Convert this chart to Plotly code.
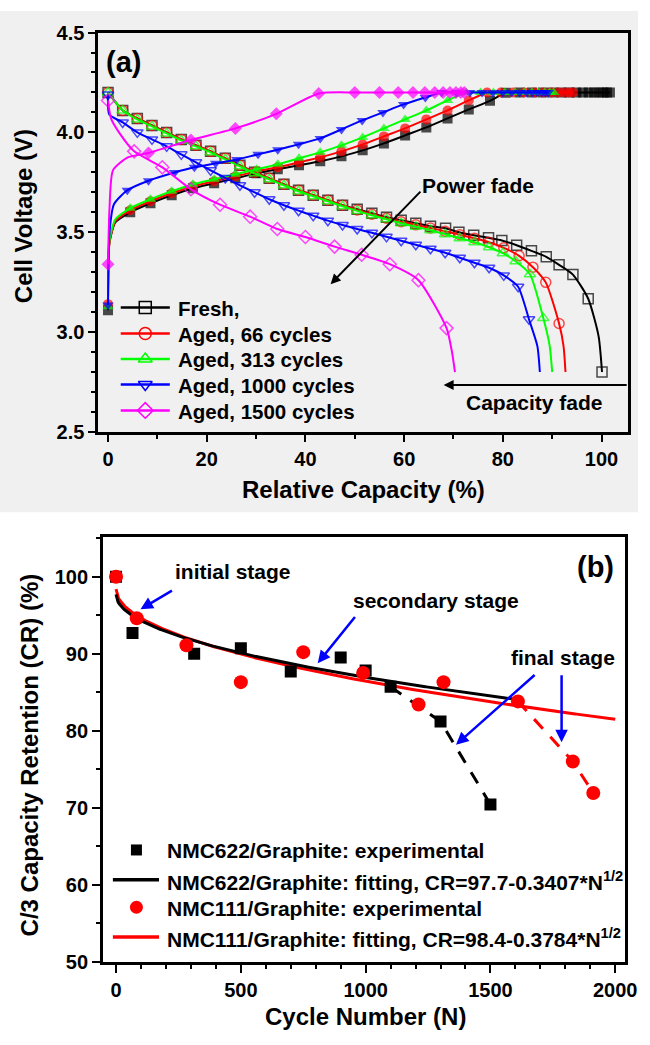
import numpy as np
import plotly.graph_objects as go

W, H = 650, 1045
FONT = "Liberation Sans, Arial, Helvetica, sans-serif"

# ---------------- (a) C/3 voltage profiles ----------------
# discharge branches (open symbols): relative capacity (%) and cell voltage (V)
fresh_dis_cap = [0, 2.97, 5.94, 8.91, 11.88, 14.85, 17.82, 20.79, 23.76, 26.73, 29.70, 32.67,
                 35.64, 38.61, 41.58, 44.55, 47.52, 50.49, 53.46, 56.43, 59.40, 62.37, 65.34,
                 68.4, 71.1, 74.1, 77.1, 79.8, 82.8, 85.8, 88.8, 91.4, 94.2, 97.3, 99.4, 100.1]
fresh_dis_v = [4.20, 4.11, 4.07, 4.035, 4.00, 3.965, 3.935, 3.905, 3.87, 3.835, 3.80, 3.77,
               3.74, 3.71, 3.685, 3.66, 3.635, 3.615, 3.595, 3.575, 3.56, 3.545, 3.53,
               3.52, 3.50, 3.485, 3.472, 3.459, 3.435, 3.407, 3.377, 3.337, 3.288, 3.167, 2.98, 2.80]

c66_dis_cap = [0, 2.97, 5.94, 8.91, 11.88, 14.85, 17.82, 20.79, 23.76, 26.73, 29.70, 32.67,
               35.64, 38.61, 41.58, 44.55, 47.52, 50.49, 53.46, 56.43, 59.40, 62.37, 65.34,
               68.31, 71.28, 74.25, 77.2, 80.2, 83.3, 86.1, 88.7, 91.4, 92.3, 92.7]
c66_dis_v = [4.20, 4.11, 4.07, 4.035, 4.00, 3.965, 3.935, 3.905, 3.87, 3.835, 3.80, 3.77,
             3.74, 3.71, 3.685, 3.66, 3.635, 3.612, 3.59, 3.57, 3.553, 3.537, 3.521,
             3.505, 3.488, 3.47, 3.45, 3.422, 3.382, 3.325, 3.249, 3.043, 2.93, 2.80]

c313_dis_cap = [0, 2.97, 5.94, 8.91, 11.88, 14.85, 17.82, 20.79, 23.76, 26.73, 29.70, 32.67,
                35.64, 38.61, 41.58, 44.55, 47.52, 50.49, 53.46, 56.43, 59.40, 62.37, 65.34,
                68.31, 71.28, 74.25, 77.22, 80.0, 82.6, 85.5, 88.2, 89.5, 90.0]
c313_dis_v = [4.20, 4.11, 4.065, 4.03, 3.995, 3.96, 3.93, 3.90, 3.865, 3.83, 3.795, 3.765,
              3.735, 3.705, 3.68, 3.655, 3.63, 3.607, 3.585, 3.565, 3.545, 3.527, 3.51,
              3.49, 3.47, 3.45, 3.425, 3.395, 3.355, 3.29, 3.07, 2.93, 2.80]

c1000_dis_cap = [0, 0.25, 2.97, 5.94, 8.91, 11.88, 14.85, 17.82, 20.79, 23.76, 26.73, 29.70,
                 32.67, 35.64, 38.61, 41.58, 44.55, 47.52, 50.49, 53.46, 56.43, 59.40, 62.37,
                 65.34, 68.31, 71.28, 74.25, 77.22, 80.19, 83.1, 85.3, 87.0, 87.5]
c1000_dis_v = [4.19, 4.09, 4.05, 4.00, 3.965, 3.93, 3.89, 3.85, 3.81, 3.772, 3.735, 3.70,
               3.665, 3.635, 3.608, 3.583, 3.558, 3.536, 3.516, 3.497, 3.477, 3.457, 3.437,
               3.417, 3.397, 3.372, 3.347, 3.322, 3.284, 3.227, 3.064, 2.93, 2.80]

c1500_dis_cap = [0, 0.6, 2.5, 5.3, 11.0, 16.8, 22.7, 28.8, 34.3, 40.0, 45.9, 51.4, 57.1,
                 62.9, 68.6, 69.7, 70.3]
c1500_dis_v = [4.16, 4.07, 3.99, 3.905, 3.825, 3.715, 3.638, 3.578, 3.516, 3.476, 3.428,
               3.387, 3.34, 3.26, 3.02, 2.90, 2.80]

# charge branches (filled symbols)
fresh_chg_cap = [0, 0.3, 1.5, 4.5, 8.6, 12.9, 17.2, 21.5, 25.8, 30.1, 34.4, 38.7, 43.0, 47.3,
                 51.6, 55.9, 60.2, 64.5, 68.8, 73.1, 77.4, 80.6, 83.4, 85.9, 88.1, 90.1, 91.9,
                 93.5, 94.9, 96.2, 97.4, 98.5, 99.5, 100.4, 101.1, 101.7]
fresh_chg_v = [3.11, 3.45, 3.55, 3.60, 3.645, 3.685, 3.72, 3.745, 3.77, 3.795, 3.815, 3.835,
               3.855, 3.88, 3.91, 3.945, 3.985, 4.025, 4.07, 4.115, 4.158, 4.198, 4.20, 4.20,
               4.20, 4.20, 4.20, 4.20, 4.20, 4.20, 4.20, 4.20, 4.20, 4.20, 4.20, 4.20]

c66_chg_cap = [0, 0.3, 1.5, 4.5, 8.6, 12.9, 17.2, 21.5, 25.8, 30.1, 34.4, 38.7, 43.0, 47.3,
               51.6, 55.9, 60.2, 64.5, 68.8, 73.1, 76.8, 79.6, 82.1, 84.4, 86.4, 88.2, 89.8,
               91.2, 92.4, 93.4, 94.2]
c66_chg_v = [3.14, 3.45, 3.555, 3.61, 3.655, 3.695, 3.73, 3.755, 3.78, 3.805, 3.825, 3.85,
             3.875, 3.905, 3.94, 3.98, 4.02, 4.065, 4.11, 4.16, 4.20, 4.20, 4.20, 4.20, 4.20,
             4.20, 4.20, 4.20, 4.20, 4.20, 4.20]

c313_chg_cap = [0, 0.3, 1.5, 4.5, 8.6, 12.9, 17.2, 21.5, 25.8, 30.1, 34.4, 38.7, 43.0, 47.3,
                51.6, 55.9, 60.2, 64.5, 68.8, 72.6, 75.5, 78.1, 80.4, 82.5, 84.3, 85.9, 87.3,
                88.5, 89.5, 90.3]
c313_chg_v = [3.127, 3.46, 3.565, 3.62, 3.665, 3.705, 3.74, 3.765, 3.79, 3.815, 3.84, 3.87,
              3.90, 3.935, 3.975, 4.02, 4.065, 4.11, 4.16, 4.20, 4.20, 4.20, 4.20, 4.20, 4.20,
              4.20, 4.20, 4.20, 4.20, 4.20]

c1000_chg_cap = [0, 0.3, 1.2, 3.9, 8.2, 13.5, 17.5, 21.8, 26.1, 30.4, 34.4, 38.6, 43.0, 47.3,
                 51.5, 55.7, 59.9, 64.3, 67.6, 70.6, 73.3, 75.8, 78.0, 80.0, 81.8, 83.4, 84.8,
                 86.0, 87.0, 87.9, 88.6, 89.2]
c1000_chg_v = [3.136, 3.50, 3.64, 3.71, 3.758, 3.799, 3.825, 3.845, 3.864, 3.89, 3.913, 3.94,
               3.97, 4.015, 4.06, 4.10, 4.14, 4.175, 4.20, 4.20, 4.20, 4.20, 4.20, 4.20, 4.20,
               4.20, 4.20, 4.20, 4.20, 4.20, 4.20, 4.20]

c1500_chg_cap = [0, 0.3, 1.0, 4.0, 8.2, 16.8, 25.8, 34.1, 42.7, 50.0, 55.0, 58.8, 61.8, 64.2,
                 66.2, 67.9, 69.3, 70.5, 71.5, 72.2]
c1500_chg_v = [3.34, 3.62, 3.81, 3.875, 3.897, 3.962, 4.02, 4.093, 4.195, 4.20, 4.20, 4.20,
               4.20, 4.20, 4.20, 4.20, 4.20, 4.20, 4.20, 4.20]

legend_a = ["Fresh,", "Aged, 66 cycles", "Aged, 313 cycles", "Aged, 1000 cycles",
            "Aged, 1500 cycles"]

# ---------------- (b) C/3 capacity retention ----------------
nmc622_cycles = [0, 66, 313, 500, 700, 900, 1000, 1100, 1300, 1500]
nmc622_cr = [100, 92.7, 90.0, 90.7, 87.7, 89.5, 87.8, 85.7, 81.2, 70.4]
nmc111_cycles = [0, 83, 282, 500, 750, 990, 1212, 1312, 1610, 1830, 1912]
nmc111_cr = [100, 94.6, 91.1, 86.3, 90.2, 87.5, 83.4, 86.3, 83.8, 76.0, 71.9]
fit622_a, fit622_b, fit622_nmax = 97.7, 0.3407, 1600   # CR = a - b*N^0.5
fit111_a, fit111_b, fit111_nmax = 98.4, 0.3784, 2000
nmc622_fast_from = 1100   # onset of the accelerated (final) fade
nmc111_fast_from = 1610

legend_b = ["NMC622/Graphite: experimental",
            "NMC622/Graphite: fitting, CR=97.7-0.3407*N<sup>1/2</sup>",
            "NMC111/Graphite: experimental",
            "NMC111/Graphite: fitting, CR=98.4-0.3784*N<sup>1/2</sup>"]

# ---------------- styling ----------------
BLACK, RED, GREEN, BLUE, MAGENTA = "#000000", "#ff0000", "#00ff00", "#0000ff", "#ff00ff"
series_a = [
    (legend_a[0], BLACK, "square", fresh_chg_cap, fresh_chg_v, fresh_dis_cap, fresh_dis_v),
    (legend_a[1], RED, "circle", c66_chg_cap, c66_chg_v, c66_dis_cap, c66_dis_v),
    (legend_a[2], GREEN, "triangle-up", c313_chg_cap, c313_chg_v, c313_dis_cap, c313_dis_v),
    (legend_a[3], BLUE, "triangle-down", c1000_chg_cap, c1000_chg_v, c1000_dis_cap, c1000_dis_v),
    (legend_a[4], MAGENTA, "diamond", c1500_chg_cap, c1500_chg_v, c1500_dis_cap, c1500_dis_v),
]
# samples drawn without a symbol (line only)
no_symbol_chg = [[1, 2], [1, 2], [1, 2], [1, 2], [1, 2, 3]]
no_symbol_dis = [[34], [32, 33], [31, 32], [1, 31, 32], [1, 2, 15, 16]]
MS = 10

fig = go.Figure()


def sizes(n, hidden, ms):
    return [0 if i in hidden else ms for i in range(n)]


for k, (name, col, sym, ccap, cv, dcap, dv) in enumerate(series_a):
    fig.add_trace(go.Scatter(
        x=ccap, y=cv, mode="lines+markers", xaxis="x", yaxis="y", showlegend=False,
        line=dict(color=col, width=2, shape="spline", smoothing=0.6),
        marker=dict(symbol=sym, color=col, size=sizes(len(ccap), no_symbol_chg[k], MS),
                    line=dict(width=0)),
        hoverinfo="skip"))
    fig.add_trace(go.Scatter(
        x=dcap, y=dv, mode="lines+markers", xaxis="x", yaxis="y", showlegend=False,
        line=dict(color=col, width=2, shape="spline", smoothing=0.6),
        marker=dict(symbol=sym + "-open", color=col, size=sizes(len(dcap), no_symbol_dis[k], MS),
                    line=dict(width=1.5, color=col)),
        hoverinfo="skip"))

# (b) fits from the stated equations
n622 = np.linspace(0, fit622_nmax, 400)
n111 = np.linspace(0, fit111_nmax, 400)
fig.add_trace(go.Scatter(x=n111, y=fit111_a - fit111_b * np.sqrt(n111), mode="lines",
                         xaxis="x2", yaxis="y2", showlegend=False,
                         line=dict(color=RED, width=3), hoverinfo="skip"))
fig.add_trace(go.Scatter(x=n622, y=fit622_a - fit622_b * np.sqrt(n622), mode="lines",
                         xaxis="x2", yaxis="y2", showlegend=False,
                         line=dict(color=BLACK, width=3), hoverinfo="skip"))

i622 = nmc622_cycles.index(nmc622_fast_from)
i111 = nmc111_cycles.index(nmc111_fast_from)
fig.add_trace(go.Scatter(x=nmc622_cycles[i622:], y=nmc622_cr[i622:], mode="lines",
                         xaxis="x2", yaxis="y2", showlegend=False,
                         line=dict(color=BLACK, width=3, dash="13px,11px"), hoverinfo="skip"))
fig.add_trace(go.Scatter(x=nmc111_cycles[i111:], y=nmc111_cr[i111:], mode="lines",
                         xaxis="x2", yaxis="y2", showlegend=False,
                         line=dict(color=RED, width=3, dash="13px,11px"), hoverinfo="skip"))
fig.add_trace(go.Scatter(x=nmc622_cycles, y=nmc622_cr, mode="markers", xaxis="x2", yaxis="y2",
                         showlegend=False, marker=dict(symbol="square", color=BLACK, size=12),
                         hoverinfo="skip"))
fig.add_trace(go.Scatter(x=nmc111_cycles, y=nmc111_cr, mode="markers", xaxis="x2", yaxis="y2",
                         showlegend=False, marker=dict(symbol="circle", color=RED, size=14),
                         hoverinfo="skip"))

# ---------------- legends (drawn on a pixel-space overlay) ----------------
ann = []


def label(x, y, text, size=20, anchor="left", angle=0, color="black"):
    ann.append(dict(x=x, y=y, xref="x3", yref="y3", text=text, showarrow=False,
                    xanchor=anchor, yanchor="middle", textangle=angle,
                    font=dict(family=FONT, size=size, color=color, weight="bold")))


rows_a = [303, 329.5, 355.5, 381.5, 408]
for (name, col, sym, *_), yy in zip(series_a, rows_a):
    fig.add_trace(go.Scatter(x=[123, 173], y=[yy, yy], mode="lines", xaxis="x3", yaxis="y3",
                             showlegend=False, line=dict(color=col, width=2.5), hoverinfo="skip"))
    fig.add_trace(go.Scatter(x=[148], y=[yy], mode="markers", xaxis="x3", yaxis="y3",
                             showlegend=False,
                             marker=dict(symbol=sym + "-open", color=col, size=12,
                                         line=dict(width=1.5, color=col)), hoverinfo="skip"))
    label(179, yy + 1, name, size=20.5)

rows_b = [857, 887.5, 915.5, 946]
fig.add_trace(go.Scatter(x=[139], y=[rows_b[0]], mode="markers", xaxis="x3", yaxis="y3",
                         showlegend=False, marker=dict(symbol="square", color=BLACK, size=11),
                         hoverinfo="skip"))
fig.add_trace(go.Scatter(x=[115, 162], y=[rows_b[1]] * 2, mode="lines", xaxis="x3", yaxis="y3",
                         showlegend=False, line=dict(color=BLACK, width=3.5), hoverinfo="skip"))
fig.add_trace(go.Scatter(x=[139], y=[rows_b[2]], mode="markers", xaxis="x3", yaxis="y3",
                         showlegend=False, marker=dict(symbol="circle", color=RED, size=13),
                         hoverinfo="skip"))
fig.add_trace(go.Scatter(x=[115, 162], y=[rows_b[3]] * 2, mode="lines", xaxis="x3", yaxis="y3",
                         showlegend=False, line=dict(color=RED, width=3.5), hoverinfo="skip"))
for txt, yy in zip(legend_b, rows_b):
    label(168, yy + 1, txt, size=21)

# axis titles and panel tags
label(24, 210, "Cell Voltage (V)", size=24, anchor="center", angle=-90)
label(370, 489, "Relative Capacity (%)", size=24, anchor="center")
label(30, 760, "C/3 Capacity Retention (CR) (%)", size=24, anchor="center", angle=-90)
label(372, 1027, "Cycle Number (N)", size=24, anchor="center")
label(126, 52, "(a)", size=29, anchor="center")
label(607, 568, "(b)", size=29, anchor="center")

# text call-outs with arrows
def callout(xr, yr, x, y, ax, ay, color, width):
    ann.append(dict(x=x, y=y, ax=ax, ay=ay, xref=xr, yref=yr, axref=xr, ayref=yr, text="",
                    showarrow=True, arrowhead=2, arrowsize=1, arrowwidth=width,
                    arrowcolor=color, standoff=0, startstandoff=0))


def note(xr, yr, x, y, text, size=21):
    ann.append(dict(x=x, y=y, xref=xr, yref=yr, text=text, showarrow=False, xanchor="center",
                    yanchor="middle", font=dict(family=FONT, size=size, color="black",
                                                weight="bold")))


note("x", "y", 74.9, 3.735, "Power fade")
callout("x", "y", 45.1, 3.24, 63.6, 3.711, BLACK, 2)
note("x", "y", 86.5, 2.647, "Capacity fade")
callout("x", "y", 68.0, 2.735, 105.4, 2.735, BLACK, 2)

note("x2", "y2", 468, 100.73, "initial stage")
callout("x2", "y2", 98, 95.76, 230, 98.31, BLUE, 2.5)
note("x2", "y2", 1282, 96.9, "secondary stage")
callout("x2", "y2", 808, 88.77, 962, 94.96, BLUE, 2.5)
note("x2", "y2", 1791, 89.53, "final stage")
callout("x2", "y2", 1362, 78.17, 1683, 87.4, BLUE, 2.5)
callout("x2", "y2", 1785, 78.5, 1785, 87.4, BLUE, 2.5)

# ---------------- axes ----------------
tickfont = dict(family=FONT, size=20, color="black", weight="bold")


def axis(domain, rng, dtick, minor_dtick, anchor, lw, fmt=None, tlen=7):
    d = dict(domain=domain, range=rng, anchor=anchor, showline=True, linecolor="black",
             linewidth=lw, mirror=True, ticks="outside", ticklen=tlen, tickwidth=2,
             tickcolor="black", dtick=dtick, tick0=0, showgrid=False, zeroline=False,
             tickfont=tickfont, fixedrange=True,
             minor=dict(ticks="outside", ticklen=4, tickwidth=2, tickcolor="black",
                        dtick=minor_dtick, showgrid=False))
    if fmt:
        d["tickformat"] = fmt
    return d


layout = dict(
    width=W, height=H, margin=dict(l=0, r=0, t=0, b=0),
    paper_bgcolor="white", plot_bgcolor="rgba(0,0,0,0)", showlegend=False,
    xaxis=axis([100 / W, 640 / W], [-2, 105.4], 20, 10, "y", 2.5),
    yaxis=axis([1 - 430 / H, 1 - 22 / H], [2.5, 4.5], 0.5, 0.1, "x", 2.5, ".1f"),
    xaxis2=axis([105 / W, 637 / W], [-52, 2040], 500, 100, "y2", 3, tlen=8),
    yaxis2=axis([1 - 971 / H, 1 - 537 / H], [50, 105.2], 10, 5, "x2", 3, tlen=8),
    xaxis3=dict(domain=[0, 1], range=[0, W], visible=False, fixedrange=True, anchor="y3"),
    yaxis3=dict(domain=[0, 1], range=[H, 0], visible=False, fixedrange=True, anchor="x3"),
    shapes=[dict(type="rect", xref="paper", yref="paper", x0=0, x1=1, y0=1 - 512 / H, y1=1,
                 fillcolor="#f0f0f0", line=dict(width=0), layer="below")],
    annotations=ann,
)
fig.update_layout(**layout)
fig.write_html("out.html")
